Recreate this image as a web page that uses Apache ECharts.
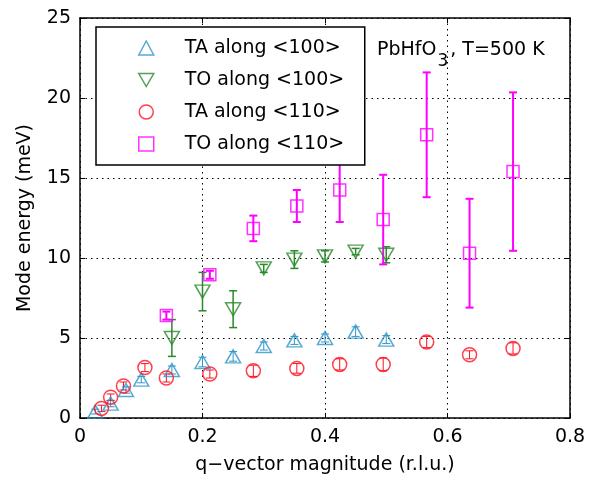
<!DOCTYPE html>
<html>
<head>
<meta charset="utf-8">
<script src="https://cdn.jsdelivr.net/npm/echarts@6/dist/echarts.min.js"></script>
<style>html,body{margin:0;padding:0;background:#fff}#c{width:594px;height:484px}</style>
</head>
<body>
<div id="c"></div>
<script>
// ---- data (q in r.l.u., energy in meV, err = half-height of error bar) ----
const taQ100 = [0.025, 0.05, 0.075, 0.1, 0.15, 0.2, 0.25, 0.3, 0.35, 0.4, 0.45, 0.5];
const taE100 = [0.4, 0.9, 1.75, 2.4, 3.0, 3.5, 3.85, 4.5, 4.85, 5.0, 5.4, 4.9];
const taErr100 = [0.15, 0.2, 0.2, 0.2, 0.25, 0.3, 0.3, 0.25, 0.25, 0.25, 0.3, 0.25];

const toQ100 = [0.15, 0.2, 0.25, 0.3, 0.35, 0.4, 0.45, 0.5];
const toE100 = [5.0, 7.9, 6.8, 9.35, 9.9, 10.1, 10.4, 10.2];
const toErr100 = [1.15, 1.2, 1.15, 0.25, 0.55, 0.35, 0.2, 0.5];

const taQ110 = [0.035, 0.05, 0.071, 0.106, 0.141, 0.212, 0.283, 0.354, 0.424, 0.495, 0.566, 0.636, 0.707];
const taE110 = [0.6, 1.3, 2.0, 3.15, 2.5, 2.75, 2.95, 3.1, 3.35, 3.35, 4.75, 3.95, 4.35];
const taErr110 = [0.2, 0.2, 0.25, 0.25, 0.25, 0.25, 0.35, 0.3, 0.35, 0.4, 0.35, 0.25, 0.35];

const toQ110 = [0.141, 0.212, 0.283, 0.354, 0.424, 0.495, 0.566, 0.636, 0.707];
const toE110 = [6.4, 8.95, 11.85, 13.25, 14.25, 12.4, 17.7, 10.3, 15.4];
const toErr110 = [0.25, 0.25, 0.8, 1.0, 2.0, 2.8, 3.9, 3.4, 4.95];

const seriesNames = ['TA along <100>', 'TO along <100>', 'TA along <110>', 'TO along <110>'];
const xTicks = [0, 0.2, 0.4, 0.6, 0.8];
const yTicks = [0, 5, 10, 15, 20, 25];
const titleParts = ['PbHfO', '3', ', T=500 K'];
const xName = 'q\u2212vector magnitude (r.l.u.)';
const yName = 'Mode energy (meV)';

const FONT = 'DejaVu Sans';
const FS = 19;
const cBlue = '#2f95c8', cGreen = '#2a8a2a', cRed = '#ff1020', cMag = '#ff00ff';
const triDown = 'path://M0 0 L15 0 L7.5 13 Z';

function pts(xs, ys) { return xs.map((x, i) => [x, ys[i]]); }

function errSeries(xs, ys, es, color, lw) {
  return {
    type: 'custom',
    name: '_err',
    z: 3,
    silent: true,
    clip: false,
    data: xs.map((x, i) => [x, ys[i] - es[i], ys[i] + es[i]]),
    encode: { x: 0, y: [1, 2] },
    renderItem: function (params, api) {
      const x = api.value(0);
      const lo = api.coord([x, api.value(1)]);
      const hi = api.coord([x, api.value(2)]);
      const cw = 4;
      const st = { stroke: color, lineWidth: lw };
      return {
        type: 'group',
        children: [
          { type: 'line', shape: { x1: lo[0], y1: lo[1], x2: hi[0], y2: hi[1] }, style: st },
          { type: 'line', shape: { x1: lo[0] - cw, y1: lo[1], x2: lo[0] + cw, y2: lo[1] }, style: st },
          { type: 'line', shape: { x1: hi[0] - cw, y1: hi[1], x2: hi[0] + cw, y2: hi[1] }, style: st }
        ]
      };
    }
  };
}

function scatter(name, data, color, symbol, size) {
  return {
    type: 'scatter',
    name: name,
    data: data,
    symbol: symbol,
    symbolSize: size,
    z: 4,
    itemStyle: { color: 'rgba(0,0,0,0)', borderColor: color, borderWidth: 1.5 },
    emphasis: { disabled: true }
  };
}

const gridLine = { show: true, lineStyle: { color: '#000', type: [1.5, 4], width: 1 } };
const axisCommon = {
  axisLine: { show: true, onZero: false, lineStyle: { color: '#000', width: 1.5 } },
  axisTick: { show: true, inside: true, length: 5, lineStyle: { color: '#000', width: 1 } },
  axisLabel: { color: '#000', fontFamily: FONT, fontSize: FS }
};

const chart = echarts.init(document.getElementById('c'), null, { renderer: 'canvas' });
chart.setOption({
  animation: false,
  backgroundColor: '#fff',
  textStyle: { fontFamily: FONT },
  grid: { left: 80, right: 24, top: 18, bottom: 66, containLabel: false },
  title: {
    text: '{a|' + titleParts[0] + '}{s|' + titleParts[1] + '}{a|' + titleParts[2] + '}',
    left: 372, top: 36,
    textStyle: {
      fontFamily: FONT, fontSize: FS, fontWeight: 'normal', color: '#000',
      rich: {
        a: { fontFamily: FONT, fontSize: FS, color: '#000', padding: [0, 0, 10, 0] },
        s: { fontFamily: FONT, fontSize: 17, color: '#000', padding: [12, 2, 0, 1] }
      }
    }
  },
  legend: {
    data: seriesNames,
    orient: 'vertical',
    left: 96, top: 27,
    padding: [11, 10, 11, 42],
    itemWidth: 15, itemHeight: 14,
    itemGap: 12,
    backgroundColor: '#fff',
    borderColor: '#000', borderWidth: 1.5,
    itemStyle: { borderWidth: 1.5 },
    textStyle: { fontFamily: FONT, fontSize: FS, color: '#000', lineHeight: 20, padding: [0, 0, 0, 26], width: 170 },
    selectedMode: false,
    z: 10
  },
  xAxis: [
    Object.assign({}, axisCommon, {
      type: 'value', min: xTicks[0], max: xTicks[xTicks.length - 1], interval: 0.2,
      splitLine: gridLine,
      name: xName, nameLocation: 'middle', nameGap: 38,
      nameTextStyle: { fontFamily: FONT, fontSize: FS, color: '#000' },
      axisLabel: Object.assign({}, axisCommon.axisLabel, { margin: 10, formatter: v => String(v) })
    }),
    Object.assign({}, axisCommon, {
      type: 'value', position: 'top', min: xTicks[0], max: xTicks[xTicks.length - 1], interval: 0.2,
      splitLine: { show: false }, axisLabel: { show: false }
    })
  ],
  yAxis: [
    Object.assign({}, axisCommon, {
      type: 'value', min: yTicks[0], max: yTicks[yTicks.length - 1], interval: 5,
      splitLine: gridLine,
      name: yName, nameLocation: 'middle', nameGap: 45,
      nameTextStyle: { fontFamily: FONT, fontSize: FS, color: '#000' },
      axisLabel: Object.assign({}, axisCommon.axisLabel, { margin: 9 })
    }),
    Object.assign({}, axisCommon, {
      type: 'value', position: 'right', min: yTicks[0], max: yTicks[yTicks.length - 1], interval: 5,
      splitLine: { show: false }, axisLabel: { show: false }
    })
  ],
  series: [
    errSeries(taQ100, taE100, taErr100, cBlue, 1),
    errSeries(toQ100, toE100, toErr100, cGreen, 1.5),
    errSeries(taQ110, taE110, taErr110, cRed, 1),
    errSeries(toQ110, toE110, toErr110, cMag, 2),
    scatter(seriesNames[0], pts(taQ100, taE100), cBlue, 'triangle', [15, 13]),
    scatter(seriesNames[1], pts(toQ100, toE100), cGreen, triDown, [15, 13]),
    scatter(seriesNames[2], pts(taQ110, taE110), cRed, 'circle', 14),
    scatter(seriesNames[3], pts(toQ110, toE110), cMag, 'rect', 12)
  ]
});
</script>
</body>
</html>
